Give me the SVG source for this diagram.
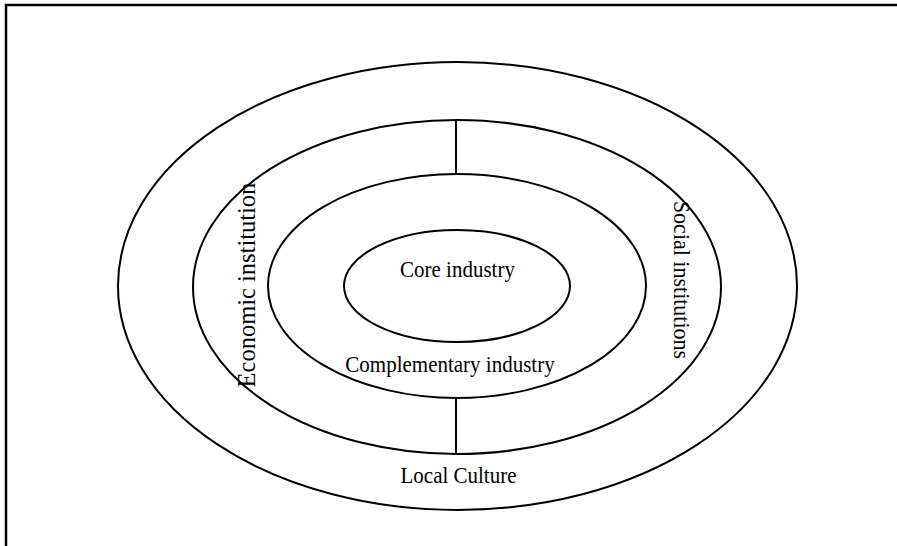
<svg xmlns="http://www.w3.org/2000/svg" width="897" height="546" viewBox="0 0 897 546">
<style>
.ring{fill:none;stroke:#000;stroke-width:2}
.lbl{font-family:"Liberation Serif","Times New Roman",serif;font-size:21px;fill:#000;text-anchor:middle}
.conn{stroke:#000;stroke-width:2}
</style>
<rect x="0" y="0" width="897" height="546" fill="#fff"/>
<path d="M6,546 V5 H897" fill="none" stroke="#000" stroke-width="2.5"/>
<g id="local-culture">
<ellipse class="ring" cx="457.5" cy="286" rx="339.5" ry="224"/>
<text class="lbl" transform="translate(458.5,483) scale(1,1.08)">Local Culture</text>
</g>
<g id="institutions">
<ellipse class="ring" cx="457" cy="287" rx="264" ry="167"/>
<text class="lbl" transform="translate(255,285) rotate(-90) scale(1,1.05)" style="font-size:24.5px">Economic institution</text>
<text class="lbl" transform="translate(673.5,280) rotate(90) scale(1,1.05)" style="font-size:22px">Social institutions</text>
</g>
<g id="complementary-industry">
<ellipse class="ring" cx="457" cy="286" rx="189" ry="112"/>
<text class="lbl" transform="translate(450,371.5) scale(1,1.08)">Complementary industry</text>
</g>
<g id="core-industry">
<ellipse class="ring" cx="457" cy="286" rx="113" ry="56"/>
<text class="lbl" transform="translate(457.5,276.5) scale(1,1.08)">Core industry</text>
</g>
<g id="connectors">
<line class="conn" x1="456" y1="120" x2="456" y2="174"/>
<line class="conn" x1="456" y1="398" x2="456" y2="454"/>
</g>
</svg>
